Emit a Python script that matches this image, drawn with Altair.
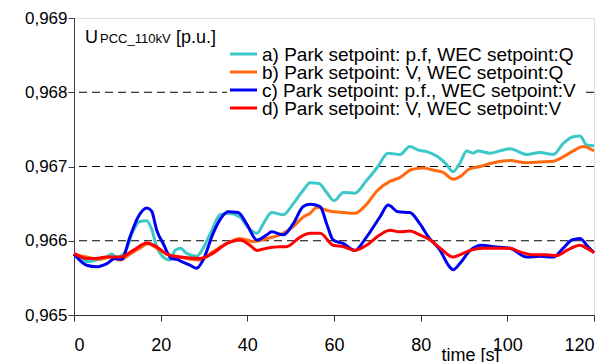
import altair as alt
import pandas as pd

names = [
    "a) Park setpoint: p.f, WEC setpoint:Q",
    "b) Park setpoint: V, WEC setpoint:Q",
    "c) Park setpoint: p.f., WEC setpoint:V",
    "d) Park setpoint: V, WEC setpoint:V",
]
colors = ["#3CC8C8", "#FF6A10", "#0000F0", "#FF0000"]

t_a = [0, 2.9, 5.2, 7.5, 8.7, 9.8, 11.8, 13.7, 15.2, 16.8, 17.9, 19.1, 20.6, 22.2, 23.3, 24.5, 26, 28.3, 29.8,
       31.8, 33.7, 35.6, 38.3, 40, 42.2, 43.7, 45.6, 48.3, 50.6, 52.9, 54.5, 56.5, 58.3, 60, 62.2, 64.8, 67.5,
       69.9, 72.5, 75.2, 77.5, 79.5, 81.4, 83.7, 85.6, 87.5, 89.1, 90.6, 92.1, 93.2, 96, 98.3, 100.6, 104.5,
       107.5, 110.6, 112.9, 115.2, 116.8, 118.3, 120]
v_a = [.96582, .96572, .96574, .96578, .96582, .96578, .96585, .96614, .96626, .96627, .96616, .96592, .96578,
       .96574, .96587, .96590, .96583, .96579, .96590, .96614, .96635, .96637, .96632, .96619, .96610, .96623,
       .96638, .96635, .96650, .96668, .96678, .96677, .96665, .96654, .96665, .96664, .96681, .96698, .96718,
       .96716, .96727, .96722, .96720, .96714, .96705, .96693, .96705, .96721, .96718, .96721, .96718, .96721,
       .96724, .96716, .96719, .96716, .96731, .96740, .96741, .96729, .96728]

t_b = [0, 2.9, 6, 8.3, 10.6, 12.9, 15.2, 17.1, 19.1, 21.4, 24.5, 29, 32, 35.2, 38.3, 41.4, 44.5, 47.5, 50.6,
       52.9, 54.5, 56, 59, 62.2, 64.8, 67.5, 69.9, 72.9, 75.2, 77.9, 80.6, 83, 85.2, 87.5, 89.5, 91, 93.7, 96.8,
       100.6, 104.5, 107.5, 110.6, 112.9, 115.2, 117.5, 120]
v_b = [.96582, .96578, .96575, .96578, .96574, .96582, .96590, .96596, .96590, .96582, .96578, .96574, .96585,
       .96596, .96603, .96599, .96603, .96608, .96619, .96632, .96637, .96645, .96640, .96638, .96637, .96649,
       .96667, .96680, .96685, .96696, .96698, .96695, .96692, .96683, .96688, .96696, .96700, .96705, .96708,
       .96705, .96706, .96707, .96713, .96721, .96727, .96721]

t_c = [0, 2.9, 5.2, 7.5, 9.5, 11, 12.9, 14.8, 16.8, 17.9, 19.1, 20.6, 22.5, 23.7, 24.9, 26.8, 28.3, 29.8, 32.1,
       34.1, 35.6, 37.9, 39.8, 42.2, 44.5, 45.6, 48.3, 50.6, 52.9, 54.5, 56.8, 58.3, 59.8, 62.2, 64.8, 67.5,
       70.6, 72.5, 74.8, 77.5, 79.8, 81.8, 84.5, 86.4, 87.5, 89, 91.4, 94.1, 96.8, 100.6, 104.5, 107.5, 110.6,
       112.9, 114.9, 116.8, 118.3, 120]
v_c = [.96582, .96567, .96565, .96569, .96576, .96575, .96605, .96632, .96644, .96640, .96614, .96596, .96576,
       .96575, .96572, .96567, .96563, .96574, .96610, .96632, .96639, .96638, .96623, .96601, .96608, .96612,
       .96608, .96623, .96646, .96649, .96646, .96623, .96601, .96596, .96587, .96605, .96632, .96648, .96639,
       .96638, .96623, .96605, .96587, .96567, .96561, .96569, .96587, .96594, .96592, .96590, .96578, .96579,
       .96578, .96590, .96601, .96603, .96594, .96584]

t_d = [0, 3, 5, 7.4, 10.6, 13.7, 16.8, 19, 21.4, 24.5, 29, 32, 35.2, 38.3, 40.6, 42.2, 44.5, 47.5, 49, 52.2,
       54.5, 56.8, 59.8, 62.2, 64.8, 67.5, 70.6, 72.9, 75.2, 77.5, 79.8, 82.2, 84.5, 87.5, 89, 91.4, 94.5, 98.3,
       100.6, 102.9, 106, 109, 111.4, 113.7, 116.8, 118.3, 120]
v_d = [.96583, .96576, .96576, .96578, .96578, .96587, .96597, .96592, .96582, .96578, .96576, .96583, .96596,
       .96601, .96594, .96587, .96590, .96592, .96592, .96605, .96610, .96610, .96594, .96592, .96587, .96594,
       .96608, .96614, .96612, .96613, .96608, .96601, .96590, .96578, .96581, .96587, .96590, .96590, .96590,
       .96585, .96581, .96581, .96580, .96587, .96594, .96590, .96584]

x_ticks = [0, 20, 40, 60, 80, 100, 120]
y_ticks = [0.965, 0.966, 0.967, 0.968, 0.969]
grid_vals = [0.966, 0.967, 0.968]

rows = []
for name, ts, vs in zip(names, [t_a, t_b, t_c, t_d], [v_a, v_b, v_c, v_d]):
    for i, (t, v) in enumerate(zip(ts, vs)):
        rows.append({"series": name, "t": t, "v": v, "i": i})
df = pd.DataFrame(rows)

FONT = "Liberation Sans"

xscale = alt.Scale(domain=[0, 120], nice=False, zero=False)
yscale = alt.Scale(domain=[0.965, 0.969], nice=False, zero=False)

grid = alt.Chart(pd.DataFrame({"g": grid_vals})).mark_rule(
    color="black", strokeWidth=1, strokeDash=[8, 5]
).encode(y=alt.Y("g:Q", scale=yscale))

lines = alt.Chart(df).mark_line(strokeWidth=3, interpolate="monotone").encode(
    x=alt.X("t:Q", scale=xscale,
            axis=alt.Axis(values=x_ticks, title="time [s]", grid=False, tickSize=6,
                          labelPadding=15, labelFontSize=18, labelFont=FONT, labelColor="black",
                          domainColor="#303030", tickColor="#303030",
                          titleFont=FONT, titleFontSize=18, titleFontWeight="normal", titleColor="black",
                          titleX=396, titleY=45, titleBaseline="alphabetic", titleAlign="center")),
    y=alt.Y("v:Q", scale=yscale,
            axis=alt.Axis(values=y_ticks, title="", grid=False, tickSize=6, labelPadding=1,
                          labelFontSize=17, labelFont=FONT, labelColor="black",
                          labelExpr="replace(format(datum.value, '.3f'), '.', ',')",
                          domainColor="#404040", tickColor="#404040")),
    color=alt.Color("series:N", scale=alt.Scale(domain=names, range=colors), legend=None),
    order=alt.Order("i:Q"),
)

one = pd.DataFrame({"k": [0]})
legend_bg = alt.Chart(one).mark_rect(color="white").encode(
    x=alt.value(153), x2=alt.value(512), y=alt.value(26), y2=alt.value(99))

legend_layers = [legend_bg]
for k, (name, col) in enumerate(zip(names, colors)):
    ypos = 36 + 18 * k
    legend_layers.append(
        alt.Chart(one).mark_rule(strokeWidth=3, color=col).encode(
            x=alt.value(156), x2=alt.value(183), y=alt.value(ypos)))
    legend_layers.append(
        alt.Chart(pd.DataFrame({"s": [name]})).mark_text(
            font=FONT, fontSize=19, align="left", baseline="middle", color="black"
        ).encode(text="s:N", x=alt.value(188), y=alt.value(ypos + 1)))

t1 = alt.Chart(pd.DataFrame({"s": ["U"]})).mark_text(
    font=FONT, fontSize=18, align="left", baseline="alphabetic", color="black"
).encode(text="s:N", x=alt.value(11), y=alt.value(25))
t2 = alt.Chart(pd.DataFrame({"s": ["PCC_110kV"]})).mark_text(
    font=FONT, fontSize=13, align="left", baseline="alphabetic", color="black"
).encode(text="s:N", x=alt.value(26), y=alt.value(25))
t3 = alt.Chart(pd.DataFrame({"s": ["[p.u.]"]})).mark_text(
    font=FONT, fontSize=18, align="left", baseline="alphabetic", color="black"
).encode(text="s:N", x=alt.value(102), y=alt.value(25))

chart = alt.layer(grid, lines, *legend_layers, t1, t2, t3).properties(
    width=520, height=297,
    autosize=alt.AutoSizeParams(type="none"),
    padding={"left": 66, "top": 10, "right": 9, "bottom": 47},
).configure_view(stroke="#a0a0a0", strokeWidth=1).configure(background="white")

chart.save("out.html", embed_options={"renderer": "svg", "actions": False})
